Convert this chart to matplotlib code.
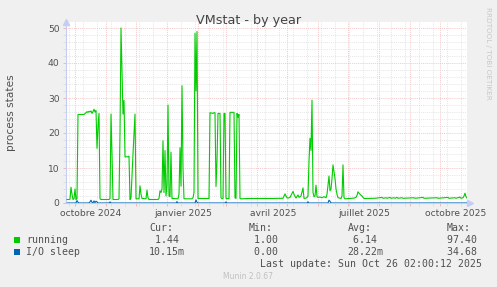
import datetime as dt
import matplotlib
matplotlib.use("Agg")
import matplotlib.pyplot as plt
import matplotlib.dates as mdates
from matplotlib.patches import Rectangle
from matplotlib.transforms import blended_transform_factory, offset_copy

# days counted from 1 Oct 2024
run_day = [-8, -6, -5, -4, -3, -2, -1, 0, 1, 2, 3, 9, 11, 12, 13, 14, 15, 16, 17, 18,
           19, 20, 21, 22, 23, 24, 25, 26, 34, 35, 36, 37, 38, 43, 44, 45, 46, 47, 48, 49,
           50, 53, 54, 55, 56, 57, 58, 59, 60, 61, 64, 65, 66, 67, 71, 72, 73, 74, 83, 84,
           85, 86, 87, 88, 89, 90, 91, 92, 93, 94, 95, 96, 97, 103, 104, 105, 106, 107, 108, 109,
           117, 118, 119, 120, 121, 122, 123, 134, 135, 138, 139, 140, 141, 142, 143, 144, 145, 146, 147, 148,
           149, 150, 151, 152, 153, 154, 155, 158, 159, 160, 161, 162, 163, 164, 165, 166, 175, 185, 195, 208,
           210, 211, 212, 213, 215, 218, 219, 221, 223, 224, 226, 228, 229, 231, 232, 233, 234, 235, 236, 237,
           238, 239, 240, 241, 242, 243, 245, 247, 249, 251, 252, 253, 254, 255, 256, 257, 258, 259, 260, 261,
           262, 263, 266, 267, 268, 269, 270, 275, 279, 281, 282, 283, 284, 285, 286, 287, 288, 289, 290, 300,
           307, 308, 311, 312, 315, 316, 319, 320, 322, 323, 327, 328, 339, 340, 348, 349, 362, 363, 373, 374,
           380, 381, 385, 386, 388, 389, 390, 391, 392]
run_val = [1.0, 1.0, 1.1, 4.5, 2.5, 1.0, 1.2, 4.0, 1.0, 1.2, 25.3, 25.3, 25.8, 26.1, 25.9, 26.2, 26.0, 26.3, 25.6, 26.1,
           26.8, 26.0, 26.4, 15.6, 22.0, 25.6, 1.2, 1.0, 1.0, 1.3, 25.4, 14.0, 1.0, 1.0, 1.2, 20.0, 50.0, 38.0, 25.4, 29.4,
           13.2, 13.2, 13.4, 1.0, 1.5, 8.0, 14.0, 20.0, 25.4, 1.2, 1.2, 4.9, 2.5, 1.3, 1.2, 3.7, 1.5, 1.0, 1.0, 1.3,
           3.5, 3.0, 4.0, 17.8, 3.0, 15.0, 2.0, 5.0, 28.0, 2.0, 1.8, 14.5, 1.3, 1.2, 2.5, 15.8, 4.8, 33.5, 10.0, 1.2,
           1.2, 1.5, 3.0, 48.5, 32.0, 49.0, 1.3, 1.3, 25.8, 25.6, 25.8, 25.8, 4.7, 12.0, 25.6, 25.6, 25.6, 1.5, 1.2, 1.3,
           25.6, 25.6, 1.3, 1.2, 1.3, 1.2, 25.9, 25.9, 25.9, 1.5, 1.3, 25.6, 24.5, 25.3, 1.3, 1.2, 1.3, 1.3, 1.3, 1.35,
           2.6, 2.0, 1.5, 1.4, 1.6, 3.3, 2.5, 1.4, 2.3, 1.6, 2.0, 4.3, 1.3, 1.4, 1.6, 2.0, 12.0, 18.5, 15.0, 29.4,
           3.0, 1.8, 2.0, 5.1, 1.8, 1.6, 1.7, 1.5, 1.8, 1.5, 2.5, 5.0, 7.7, 3.5, 4.0, 7.0, 10.9, 9.0, 7.0, 4.0,
           2.5, 1.5, 1.3, 2.0, 10.9, 1.5, 1.2, 1.3, 1.4, 1.6, 2.2, 3.2, 2.8, 2.5, 2.2, 2.0, 1.6, 1.3, 1.3, 1.35,
           1.6, 1.35, 1.5, 1.35, 1.6, 1.35, 1.5, 1.35, 1.6, 1.35, 1.5, 1.35, 1.5, 1.35, 1.6, 1.35, 1.5, 1.35, 1.6, 1.35,
           1.5, 1.35, 1.7, 1.35, 1.5, 2.0, 2.8, 1.8, 1.44]

io_day = [-8, 1, 2, 3, 4, 14, 15, 16, 17, 18, 19, 20, 21, 22, 23, 34, 35, 36, 101, 102,
          103, 120, 121, 122, 123, 150, 151, 152, 232, 233, 234, 253, 254, 255, 256, 392]
io_val = [0, 0, 0.7, 0.2, 0, 0, 0.3, 0.8, 0.2, 0, 0.6, 0.1, 0.5, 0.3, 0, 0, 0.3, 0, 0, 0.4,
          0, 0, 0.9, 0.2, 0, 0, 0.3, 0, 0, 0.35, 0, 0, 0.8, 0.5, 0, 0]

month_labels = ["octobre 2024", "janvier 2025", "avril 2025", "juillet 2025", "octobre 2025"]
label_dates = [dt.datetime(2024, 10, 17), dt.datetime(2025, 1, 17), dt.datetime(2025, 4, 17),
               dt.datetime(2025, 7, 17), dt.datetime(2025, 10, 17)]

legend_names = ["running", "I/O sleep"]
legend_colors = ["#00cc00", "#0066b3"]
cur = ["1.44 ", "10.15m"]
mn = ["1.00 ", "0.00 "]
avg = ["6.14 ", "28.22m"]
mx = ["97.40 ", "34.68 "]

W, H = 497, 287
start = dt.datetime(2024, 10, 1)
base = mdates.date2num(start)
rx = [base + d for d in run_day]
ix = [base + d for d in io_day]

plt.rcParams['font.family'] = 'DejaVu Sans'
txt = '#505050'
axis_col = '#c4cdf2'
major_col = '#f0b8b8'
minor_col = '#dedede'

fig = plt.figure(figsize=(W / 100, H / 100), dpi=100, facecolor='#f0f0f0')
ax = fig.add_axes([66 / W, 1 - 203 / H, 401 / W, 181 / H])
ax.set_facecolor('white')

ax.plot(rx, run_val, color='#00cc00', lw=0.8, zorder=3)
ax.plot(ix, io_val, color='#0066b3', lw=0.8, zorder=4)

ax.set_xlim(base - 9, base + 392)
ax.set_ylim(0, 181 / 3.5)

# month grid (red) and two-week grid (grey)
ax.xaxis.set_major_locator(mdates.MonthLocator())
biweekly = mdates.rrulewrapper(mdates.WEEKLY, interval=2, dtstart=dt.datetime(2024, 9, 30))
ax.xaxis.set_minor_locator(mdates.RRuleLocator(biweekly))
ax.xaxis.set_major_formatter(plt.NullFormatter())
ax.set_yticks(range(0, 51, 10))
ax.set_yticks(range(0, 51, 2), minor=True)

ax.grid(which='major', color=major_col, lw=0.6, ls=(0, (1, 1.3)))
ax.grid(which='minor', color=minor_col, lw=0.6, ls=(0, (1, 1.3)))
ax.set_axisbelow(True)

ax.tick_params(which='major', length=2, width=0.7, color=major_col, labelsize=6.6,
               labelcolor=txt, pad=2.5)
ax.tick_params(which='minor', length=2, width=0.7, color=minor_col)

for s in ['top', 'right']:
    ax.spines[s].set_visible(False)
for s in ['left', 'bottom']:
    ax.spines[s].set_color(axis_col)
    ax.spines[s].set_linewidth(0.8)

ax.plot([0], [1], marker='^', ms=4, color=axis_col, transform=ax.transAxes, clip_on=False)
ax.plot([1.008], [0], marker='>', ms=4, color=axis_col, transform=ax.transAxes, clip_on=False)

tr = offset_copy(blended_transform_factory(ax.transData, ax.transAxes), fig=fig, y=-9.4, units='points')
for lab, d in zip(month_labels, label_dates):
    ax.text(mdates.date2num(d), 0, lab, transform=tr, ha='center', va='baseline',
            fontsize=6.6, color=txt)

fig.text(249 / W, 1 - 24 / H, "VMstat - by year", ha='center', va='baseline', fontsize=9.2, color='#444444')
fig.text(11 / W, 1 - 113 / H, "process states", rotation=90, ha='center', va='center', fontsize=7.6, color=txt)
fig.text(488 / W, 1 - 53 / H, "RRDTOOL / TOBI OETIKER", rotation=270, ha='center', va='center',
         fontsize=5.2, color='#c8c8c8')

mono = dict(family='DejaVu Sans Mono', fontsize=7.1, color=txt, va='baseline')
fig.text(149 / W, 1 - 231 / H, "Cur:", **mono)
fig.text(249 / W, 1 - 231 / H, "Min:", **mono)
fig.text(348 / W, 1 - 231 / H, "Avg:", **mono)
fig.text(447 / W, 1 - 231 / H, "Max:", **mono)

rows = [243.3, 255.3]
for i in range(2):
    y = 1 - rows[i] / H
    fig.patches.append(Rectangle((14 / W, y), 6 / W, 6 / H, transform=fig.transFigure,
                                 facecolor=legend_colors[i], edgecolor='none'))
    fig.text(26.5 / W, y, legend_names[i], **mono)
    fig.text(185 / W, y, cur[i], ha='right', **mono)
    fig.text(284 / W, y, mn[i], ha='right', **mono)
    fig.text(383 / W, y, avg[i], ha='right', **mono)
    fig.text(483 / W, y, mx[i], ha='right', **mono)

fig.text(482 / W, 1 - 267 / H, "Last update: Sun Oct 26 02:00:12 2025", ha='right', **mono)
fig.text(248 / W, 1 - 279.3 / H, "Munin 2.0.67", ha='center', va='baseline', fontsize=5.5, color='#c0c0c0')

fig.savefig("out.png", dpi=100, facecolor=fig.get_facecolor())
